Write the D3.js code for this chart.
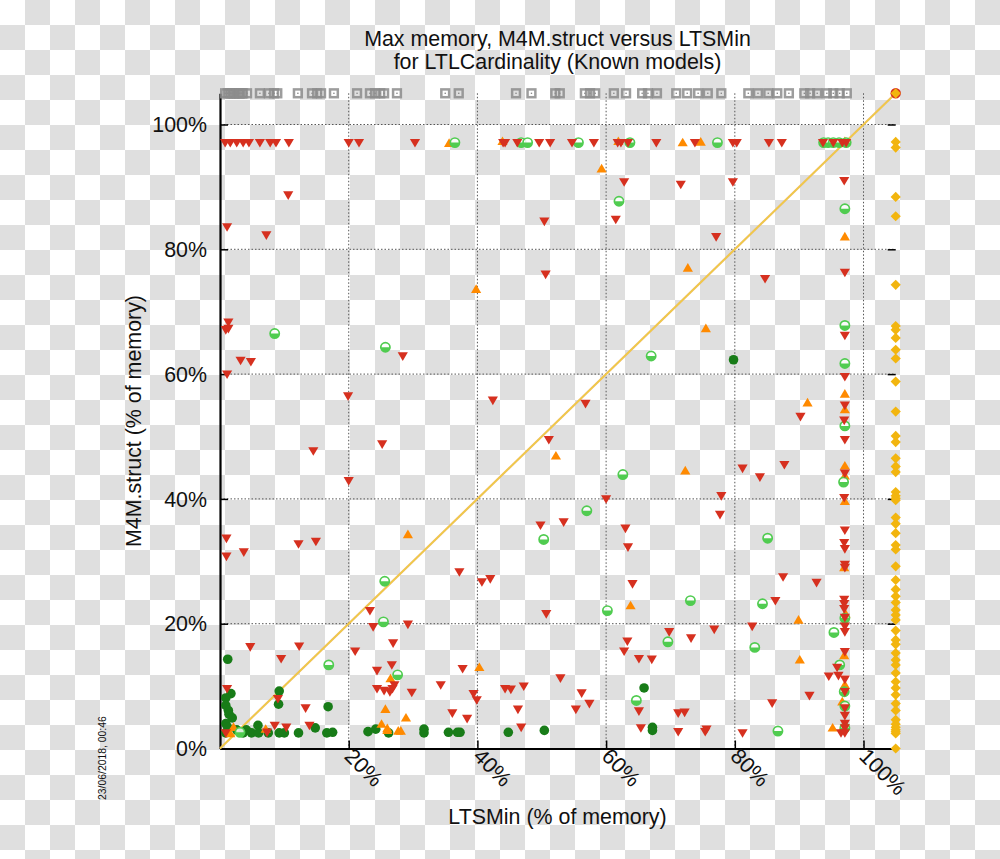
<!DOCTYPE html>
<html>
<head>
<meta charset="utf-8">
<script src="https://cdn.jsdelivr.net/npm/d3@7"></script>
<style>
body { margin: 0; background: #fff; }
svg { display: block; }
text { font-family: "Liberation Sans", Arial, sans-serif; fill: #111; }
</style>
</head>
<body>
<svg id="chart" width="1000" height="859"></svg>
<script>
// all values are % of memory: [LTSMin, M4M.struct]
const xTicks = [20, 40, 60, 80, 100];
const yTicks = [0, 20, 40, 60, 80, 100];

// runs that ran out on one side, drawn at 105 on the other axis
const grayX = [0.8, 1.2, 1.5, 1.7, 2.0, 2.2, 2.6, 2.9, 3.1, 3.4, 3.6, 4.2, 6.2, 7.6, 8.4, 8.9, 12.1, 14.3, 15.1, 15.7, 17.7, 21.3, 23.3, 24.1, 24.9, 25.5, 27.5, 35.0, 37.1, 46.0, 48.4, 52.1, 52.8, 56.7, 57.5, 58.3, 61.2, 63.1, 65.6, 66.5, 67.9, 70.9, 72.6, 74.3, 75.8, 77.9, 82.1, 83.6, 85.2, 86.6, 88.4, 90.8, 91.7, 92.8, 94.3, 95.3, 96.3, 97.4];
const yellowY = [105, 97.2, 96.3, 88.4, 85.3, 74.3, 67.7, 67.1, 65.8, 63.9, 62.5, 58.8, 54.0, 50.1, 49.1, 46.5, 45.2, 44.3, 41.1, 40.5, 40.1, 39.8, 37.0, 36.0, 34.5, 32.6, 31.9, 29.2, 27.0, 25.5, 24.4, 23.4, 22.2, 21.4, 20.6, 18.9, 17.4, 16.7, 15.3, 14.2, 13.4, 12.1, 10.7, 9.7, 8.6, 7.2, 6.1, 4.6, 3.9, 3.4, 3.0, 2.7, 2.4, 0];

const darkGreen = [[79.8,62.3],[65.9,9.7],[67.2,3.4],[67.2,2.9],[50.4,2.9],[44.8,2.6],[35.5,2.6],[36.9,2.6],[37.3,2.6],[23.0,2.7],[24.2,3.1],[26.2,2.5],[31.7,3.1],[31.7,2.5],[1.2,14.3],[16.8,6.7],[9.1,7.1],[9.2,9.2],[14.8,3.3],[12.2,2.5],[16.6,2.5],[17.5,2.6],[5.9,3.7],[1.7,8.8],[0.9,8.1],[0.9,6.9],[1.3,6.1],[1.4,5.5],[1.9,4.9],[0.9,4.0],[0.9,2.5],[1.2,3.4],[2.6,3.0],[4.1,3.0],[3.6,2.5],[4.9,2.5],[6.0,2.5],[7.5,2.5],[9.2,2.5],[10.0,2.5]];

const orange = [[35.6,97.1],[61.9,97.4],[71.9,97.2],[74.7,97.3],[97.1,97.4],[59.3,93.0],[97.1,82.1],[72.7,77.1],[43.9,97.4],[75.5,67.4],[52.2,47.0],[72.3,44.6],[39.8,73.7],[29.2,34.4],[91.3,55.5],[97.1,56.9],[97.1,54.4],[97.1,45.4],[97.1,43.8],[97.1,39.7],[63.8,23.0],[89.9,20.7],[90.1,14.3],[97.0,29.1],[97.2,21.7],[97.0,15.0],[97.1,10.3],[96.7,7.6],[95.2,3.4],[96.8,3.4],[40.3,13.1],[26.5,11.3],[25.7,6.4],[28.9,5.0],[25.1,4.0],[26.0,3.3],[26.0,3.0],[27.7,2.9],[28.1,2.9],[2.1,3.5],[1.6,2.5],[7.1,3.2]];

const lightGreen = [[36.5,97.1],[46.8,97.1],[47.8,97.1],[55.7,97.1],[63.7,97.1],[77.3,97.1],[62.0,87.7],[67.0,62.9],[62.6,43.9],[93.8,97.1],[94.5,97.1],[95.3,97.1],[96.2,97.1],[97.3,97.1],[97.1,86.5],[97.1,67.8],[97.1,61.7],[97.1,51.7],[96.9,42.7],[8.5,66.5],[25.7,64.3],[25.6,26.8],[57.0,38.1],[50.3,33.5],[85.1,33.7],[73.1,23.7],[84.3,23.2],[60.2,22.1],[69.6,17.1],[83.1,16.2],[25.4,20.3],[27.6,11.8],[16.9,13.4],[3.1,2.6],[64.7,7.7],[86.7,2.8],[95.4,18.6],[96.3,13.4],[97.1,20.9],[97.0,9.1],[97.1,6.8],[97.1,3.3]];

const red = [
  // top row
  [0.8,97],[1.6,97],[2.6,97],[3.6,97],[4.5,97],[6.2,97],[7.8,97],[8.7,97],[10.7,97],[20.0,97],[21.6,97],[30.3,97],[44.0,97],[44.3,97],[46.2,97],[49.6,97],[51.3,97],[54.7,97],[58.1,97],[61.8,97],[62.3,97],[63.4,97],[67.8,97],[73.8,97],[79.7,97],[80.3,97],[85.3,97],[87.3,97],[93.7,97],[95.3,97],[96.7,97],[97.3,97],
  // upper half
  [10.6,88.6],[1.1,83.5],[7.2,82.2],[62.8,90.7],[71.6,90.3],[79.7,90.7],[97.0,90.9],[61.5,84.7],[77.1,81.9],[97.1,76.2],[84.7,75.2],[50.4,84.4],[50.6,75.9],[56.8,55.2],[42.4,55.7],[51.1,49.4],[81.2,44.8],[87.7,45.4],[83.9,43.4],
  [1.3,68.2],[1.3,67.2],[0.9,67.0],[3.2,62.1],[4.8,61.9],[1.1,59.9],[28.4,62.8],[19.9,56.4],[25.2,48.7],[14.5,47.6],[20.0,42.8],[1.0,33.6],[12.2,32.7],[14.9,33.1],[3.7,31.4],[1.0,30.7],[37.2,28.2],[40.7,26.6],[42.0,27.1],
  // middle
  [77.9,40.4],[60.0,39.9],[77.7,37.4],[49.8,35.7],[53.4,36.2],[63.0,35.2],[63.4,32.2],[87.5,27.4],[64.1,26.3],[86.3,23.6],[50.7,21.5],[82.7,19.5],[76.8,19.0],[69.8,18.6],[73.2,17.6],[63.3,17.1],[62.8,15.5],[65.1,14.3],[67.1,14.2],
  // bottom
  [37.7,12.7],[34.3,10.1],[39.4,8.7],[39.9,7.7],[44.3,9.5],[45.2,9.4],[47.2,9.9],[52.9,11.2],[56.2,8.8],[57.4,7.1],[55.3,6.2],[46.3,6.2],[36.1,5.6],[38.4,4.7],[65.1,5.9],[71.2,5.6],[72.2,5.7],[85.8,7.2],[46.8,3.3],[65.4,3.2],[71.2,2.6],[75.4,2.6],[75.6,3.0],[81.2,2.4],
  [23.3,22.0],[23.8,19.4],[29.2,19.8],[26.9,16.8],[21.0,15.5],[26.7,13.3],[24.4,12.4],[24.4,9.5],[25.5,9.2],[26.4,9.0],[26.8,9.5],[27.1,10.1],[29.8,8.9],
  [4.7,16.2],[12.3,16.3],[9.5,14.3],[1.1,9.5],[9.0,7.9],[13.3,6.4],[8.5,3.6],[10.3,3.3],[13.9,3.6],[0.9,2.4],[7.3,2.5],
  // right column
  [97.1,66.1],[97.1,59.5],[97.1,54.9],[97.0,52.5],[97.1,49.4],[90.2,53.1],[97.1,44.0],[97.0,40.1],[97.1,34.9],[97.0,32.9],[97.1,31.9],[97.1,29.4],[97.1,28.9],[92.7,26.5],[97.0,23.8],[97.0,23.1],[97.0,22.3],[97.1,20.9],[97.1,19.5],[97.1,18.6],[97.1,15.4],[95.9,12.9],[94.6,11.5],[96.1,11.6],[97.1,11.0],[97.1,9.0],[91.6,8.4],[97.1,6.4],[97.1,5.2],[97.1,3.9],[97.1,3.2],[96.5,2.4],[97.1,2.4]
];

const diagonal = [0, 105];
const cornerPoint = [[105, 105]];

const svg = d3.select("#chart");

// transparent background checkerboard, 25px squares
const cells = [];
d3.range(40).forEach(i => d3.range(35).forEach(j => { if ((i + j) % 2) cells.push([i, j]); }));
svg.append("g").selectAll("rect").data(cells).enter().append("rect")
  .attr("x", d => d[0] * 25).attr("y", d => d[1] * 25)
  .attr("width", 25).attr("height", 25).attr("fill", "#dfdfdf");

const x = d3.scaleLinear().domain([0, 105]).range([220, 895.7]);
const y = d3.scaleLinear().domain([0, 105]).range([748.5, 93.3]);

// grid
const grid = svg.append("g").attr("stroke", "#555").attr("stroke-width", 1).attr("stroke-dasharray", "1.5,2");
grid.selectAll(".gx").data(xTicks).enter().append("line")
  .attr("x1", d => x(d)).attr("x2", d => x(d)).attr("y1", y(105)).attr("y2", y(0));
grid.selectAll(".gy").data(yTicks.slice(1)).enter().append("line")
  .attr("x1", x(0)).attr("x2", x(105)).attr("y1", d => y(d)).attr("y2", d => y(d));

// axes
const xAxis = svg.append("g").attr("transform", `translate(0,${y(0)})`)
  .call(d3.axisBottom(x).tickValues(xTicks).tickSize(-8).tickSizeOuter(0).tickFormat(d => d + "%"));
xAxis.selectAll("text")
  .attr("font-size", 21.7).attr("text-anchor", "start").attr("dy", 0).attr("y", 0)
  .attr("transform", "translate(-6,9) rotate(45)");

const yAxis = svg.append("g").attr("transform", `translate(${x(0)},0)`)
  .call(d3.axisLeft(y).tickValues(yTicks).tickSize(-8).tickSizeOuter(0).tickFormat(d => d + "%"));
yAxis.selectAll("text").attr("font-size", 21.4).attr("x", -13).attr("dy", "0.34em");

const yRight = svg.append("g").attr("transform", `translate(${x(105)},0)`)
  .call(d3.axisRight(y).tickValues(yTicks.slice(1)).tickSize(-8).tickSizeOuter(0).tickFormat(""));
yRight.select(".domain").remove();

[xAxis, yAxis, yRight].forEach(a => {
  a.selectAll(".domain").attr("stroke", "#000").attr("stroke-width", 2.2);
  a.selectAll(".tick line").attr("stroke", "#000").attr("stroke-width", 1.5);
});

// diagonal
const line = d3.line().x(d => x(d)).y(d => y(d));
svg.append("path").attr("d", line(diagonal)).attr("fill", "none").attr("stroke", "#eeb868").attr("stroke-width", 2.2);
svg.append("path").attr("d", line(diagonal)).attr("fill", "none").attr("stroke", "#efd040").attr("stroke-width", 1.1);

// triangle centered on its box, not on the centroid
const triUp = { draw(ctx, size) {
  const w = Math.sqrt(size) * 1.5, h = w * 0.85;
  ctx.moveTo(0, -h / 2); ctx.lineTo(w / 2, h / 2); ctx.lineTo(-w / 2, h / 2); ctx.closePath();
} };
const triDown = { draw(ctx, size) {
  const w = Math.sqrt(size) * 1.5, h = w * 0.85;
  ctx.moveTo(0, h / 2); ctx.lineTo(w / 2, -h / 2); ctx.lineTo(-w / 2, -h / 2); ctx.closePath();
} };
// d3.symbolDiamond is too narrow, this one has equal diagonals
const squareDiamond = { draw(ctx, size) {
  const r = Math.sqrt(size / 2);
  ctx.moveTo(0, -r); ctx.lineTo(r, 0); ctx.lineTo(0, r); ctx.lineTo(-r, 0); ctx.closePath();
} };

const place = d => `translate(${x(d[0])},${y(d[1])})`;

// dark green
svg.append("g").selectAll("circle").data(darkGreen).enter().append("circle")
  .attr("cx", d => x(d[0])).attr("cy", d => y(d[1])).attr("r", 4.8).attr("fill", "#187c18");

// orange up triangles
svg.append("g").selectAll("path").data(orange).enter().append("path")
  .attr("transform", place).attr("d", d3.symbol().type(triUp).size(46)()).attr("fill", "#ff8a00");

// half filled light green circles
const lg = svg.append("g").selectAll("g").data(lightGreen).enter().append("g").attr("transform", place);
lg.append("circle").attr("r", 4.6).attr("fill", "#fff").attr("fill-opacity", 0.85)
  .attr("stroke", "#50cc50").attr("stroke-width", 1.7);
lg.append("path").attr("fill", "#50cc50")
  .attr("d", d3.arc().innerRadius(0).outerRadius(4.6).startAngle(Math.PI / 2).endAngle(Math.PI * 1.5)());

// red down triangles
svg.append("g").selectAll("path").data(red).enter().append("path")
  .attr("transform", place).attr("d", d3.symbol().type(triDown).size(46)()).attr("fill", "#d6301f");

// corner
svg.append("g").selectAll("circle").data(cornerPoint).enter().append("circle")
  .attr("cx", d => x(d[0])).attr("cy", d => y(d[1])).attr("r", 5.2).attr("fill", "#d6301f");

// gray boxes on the top edge
const gb = svg.append("g").selectAll("g").data(grayX).enter().append("g")
  .attr("transform", d => `translate(${x(d)},${y(105)})`);
gb.append("rect").attr("x", -3.9).attr("y", -3.9).attr("width", 7.8).attr("height", 7.8)
  .attr("fill", "none").attr("stroke", "#8c8c8c").attr("stroke-opacity", 0.85).attr("stroke-width", 2.5);
gb.append("rect").attr("x", -0.7).attr("y", -0.7).attr("width", 1.4).attr("height", 1.4).attr("fill", "#8c8c8c");

// yellow diamonds on the right edge
svg.append("g").selectAll("path").data(yellowY).enter().append("path")
  .attr("transform", d => `translate(${x(105)},${y(d)})`)
  .attr("d", d3.symbol().type(squareDiamond).size(52)()).attr("fill", "#f2b50f");

// texts
svg.append("text").attr("x", 557.5).attr("y", 46).attr("text-anchor", "middle").attr("font-size", 21.4)
  .text("Max memory, M4M.struct versus LTSMin");
svg.append("text").attr("x", 557.5).attr("y", 69).attr("text-anchor", "middle").attr("font-size", 21.4)
  .text("for LTLCardinality (Known models)");
svg.append("text").attr("x", 557.5).attr("y", 824).attr("text-anchor", "middle").attr("font-size", 21.4)
  .text("LTSMin (% of memory)");
svg.append("text").attr("transform", "translate(141,421) rotate(-90)").attr("text-anchor", "middle").attr("font-size", 21.4)
  .text("M4M.struct (% of memory)");
svg.append("text").attr("transform", "translate(106,800) rotate(-90)").attr("font-size", 10.4)
  .text("23/06/2018, 00:46");
</script>
</body>
</html>
